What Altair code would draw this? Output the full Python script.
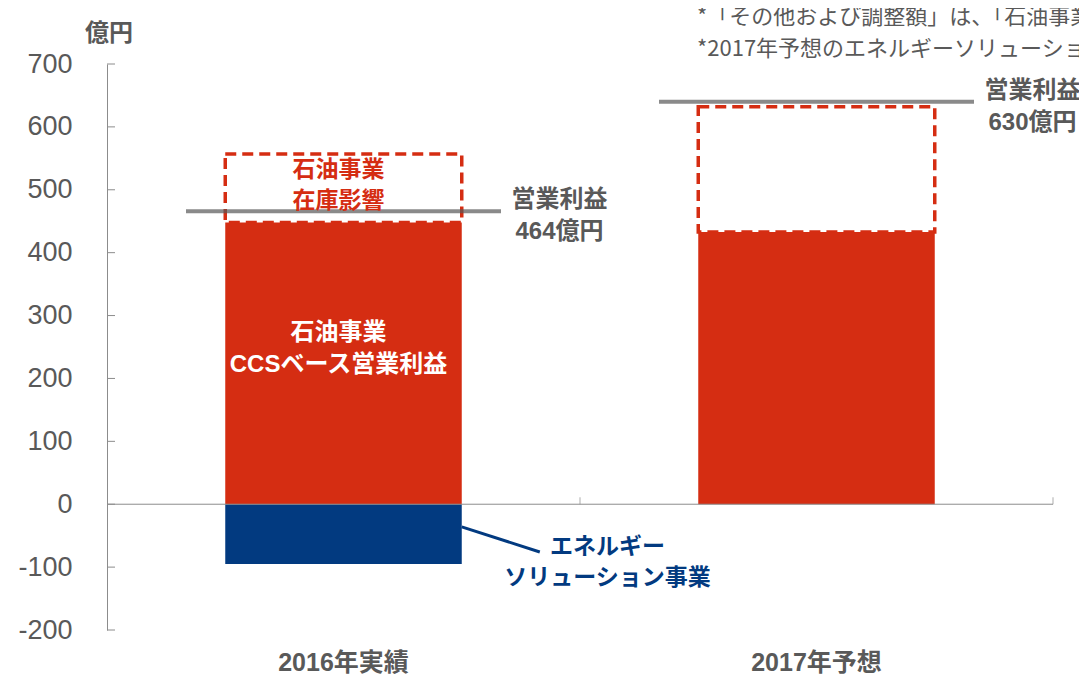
import altair as alt
import pandas as pd

# ---- data ----
categories = ["2016年実績", "2017年予想"]
ccs_profit = [448, 433]          # 石油事業 CCSベース営業利益 (red bar)
inventory_top = [557, 632]       # 石油事業 在庫影響 (top of dashed box)
energy_solution = [-95, 0]       # エネルギーソリューション事業 (navy bar)
op_profit_line = [466, 640]      # 営業利益 line level as drawn
op_profit_labels = ["営業利益\n464億円", "営業利益\n630億円"]
y_ticks = [-200, -100, 0, 100, 200, 300, 400, 500, 600, 700]
leader_y = [-36, -76]            # leader line from navy bar to its label
notes = ["*「その他および調整額」は、「石油事業」", "*2017年予想のエネルギーソリューション"]

RED = "#D52D12"
NAVY = "#023A80"
GRAY_TXT = "#595959"
GRAY_AX = "#8C8C8C"
JP = "Noto Sans CJK JP"
MIX = "Liberation Sans, Noto Sans CJK JP"
W, H = 946, 566

df = pd.DataFrame({
    "cat": categories,
    "ccs": ccs_profit,
    "inv_top": inventory_top,
    "energy": energy_solution,
    "op": op_profit_line,
    "op_label": op_profit_labels,
})

xscale = alt.Scale(domain=categories, paddingInner=0, paddingOuter=0)
yscale = alt.Scale(domain=[-200, 700], nice=False)

x_enc = alt.X(
    "cat:N", scale=xscale, sort=categories,
    axis=alt.Axis(title=None, labelFont=MIX, labelFontSize=25, labelFontWeight="bold",
                  labelColor=GRAY_TXT, labelPadding=32, labelBaseline="middle",
                  labelAngle=0, domain=False, ticks=False, tickSize=0),
)
y_axis = alt.Axis(values=y_ticks, title=None, labelFont="Liberation Sans", labelFontSize=27,
                  labelColor=GRAY_TXT, labelPadding=35, ticks=False, tickSize=0, grid=False,
                  domainColor=GRAY_AX, domainWidth=1, labelExpr="'' + datum.value")

base = alt.Chart(df)

dashed_box = base.mark_bar(fill="white", stroke=RED, strokeWidth=3.5, strokeDash=[11, 6],
                           width=alt.RelativeBandSize(0.5)).encode(
    x=x_enc, y=alt.Y("ccs:Q", scale=yscale, axis=y_axis), y2="inv_top:Q")

red_bar = base.mark_bar(color=RED, width=alt.RelativeBandSize(0.5)).encode(
    x=x_enc, y=alt.Y("ccs:Q"), y2=alt.datum(0))

navy_bar = base.transform_filter(alt.datum.energy < 0).mark_bar(
    color=NAVY, width=alt.RelativeBandSize(0.5)).encode(
    x=x_enc, y=alt.Y("energy:Q"), y2=alt.datum(0))

zero_line = alt.Chart(pd.DataFrame({"v": [0]})).mark_rule(color=GRAY_AX, strokeWidth=1).encode(
    y=alt.Y("v:Q"), x=alt.value(0), x2=alt.value(W))

y_tick_marks = alt.Chart(pd.DataFrame({"v": y_ticks})).mark_rule(color=GRAY_AX, strokeWidth=1).encode(
    y=alt.Y("v:Q"), x=alt.value(0), x2=alt.value(8))

band_ticks = base.mark_tick(color=GRAY_AX, thickness=1, size=7, orient="vertical", yOffset=-3.5).encode(
    x=alt.X("cat:N", bandPosition=1), y=alt.datum(0))

op_lines = base.mark_tick(color=GRAY_TXT, thickness=4, size=315, orient="horizontal").encode(
    x=x_enc, y=alt.Y("op:Q"))

# multi-line text: first line sits at the anchor, following lines below it
op_text = base.mark_text(font=MIX, fontSize=24, fontWeight="bold", color=GRAY_TXT, align="center",
                         baseline="middle", lineBreak="\n", lineHeight=32, dx=216, dy=-11).encode(
    x=x_enc, y=alt.Y("op:Q"), text="op_label:N")

first = base.transform_filter(alt.datum.cat == categories[0])

inv_text = first.transform_calculate(mid="(datum.ccs + datum.inv_top) / 2").mark_text(
    text=["石油事業", "在庫影響"], font=JP, fontSize=23, fontWeight="bold", color=RED,
    align="center", baseline="middle", lineHeight=31, dx=-5, dy=-18).encode(
    x=x_enc, y=alt.Y("mid:Q"))

ccs_text = first.transform_calculate(mid="datum.ccs / 2").mark_text(
    text=["石油事業", "CCSベース営業利益"], font=MIX, fontSize=24, fontWeight="bold", color="white",
    align="center", baseline="middle", lineHeight=32, dx=-5, dy=-30).encode(
    x=x_enc, y=alt.Y("mid:Q"))

energy_text = first.mark_text(
    text=["エネルギー", "ソリューション事業"], font=JP, fontSize=23, fontWeight="bold", color=NAVY,
    align="center", baseline="middle", lineHeight=31, dx=264, dy=-17).encode(
    x=x_enc, y=alt.Y("energy:Q"))

leader = first.mark_rule(color=NAVY, strokeWidth=3).encode(
    x=alt.X("cat:N", bandPosition=0.75), x2=alt.X2("cat:N", bandPosition=0.915),
    y=alt.datum(leader_y[0]), y2=alt.datum(leader_y[1]))

unit_text = alt.Chart(pd.DataFrame({"a": [0]})).mark_text(
    text="億円", font=JP, fontSize=24, fontWeight="bold", color=GRAY_TXT,
    align="center", baseline="middle").encode(x=alt.value(2), y=alt.value(-30))

notes_text = alt.Chart(pd.DataFrame({"a": [0]})).mark_text(
    text=notes, font=JP, fontSize=22, color=GRAY_TXT, align="left", baseline="middle",
    lineHeight=32).encode(x=alt.value(590), y=alt.value(-47))

chart = alt.layer(
    dashed_box, red_bar, navy_bar, zero_line, y_tick_marks, band_ticks, op_lines,
    op_text, inv_text, ccs_text, energy_text, leader, unit_text, notes_text,
).properties(
    width=W, height=H,
    autosize=alt.AutoSizeParams(type="none"),
    padding={"left": 99, "top": 56, "right": 26, "bottom": 47},
    background="white",
).configure_view(strokeWidth=0)

chart.save("out.html", embed_options={"renderer": "svg", "actions": False})
